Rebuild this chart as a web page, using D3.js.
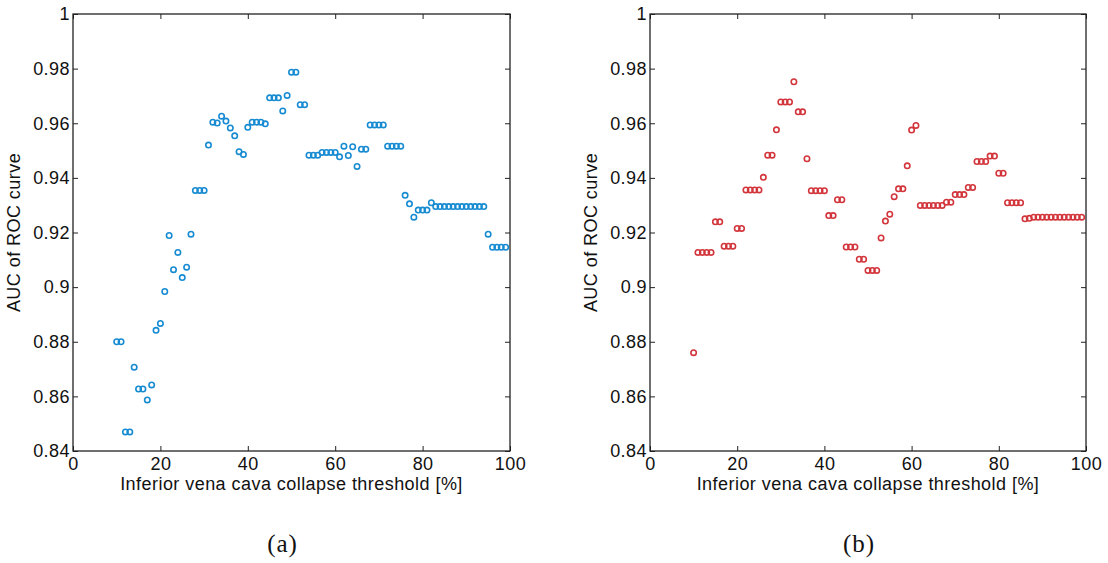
<!DOCTYPE html>
<html>
<head>
<meta charset="utf-8">
<script src="https://cdn.jsdelivr.net/npm/d3@7"></script>
<style>
  html, body { margin: 0; padding: 0; background: #fff; }
  svg { display: block; }
</style>
</head>
<body>
<svg id="chart" width="1108" height="563"></svg>
<script>
// Collapse thresholds (%) shared by both panels
const thresholds = d3.range(10, 100);

// AUC values, panel (a)
const aucA = [
  0.880, 0.880, 0.847, 0.847, 0.8707, 0.8627, 0.8627, 0.8587, 0.8642, 0.8842,
  0.8867, 0.8984, 0.9189, 0.9064, 0.9127, 0.9035, 0.9073, 0.9194, 0.9354, 0.9354,
  0.9354, 0.9520, 0.9604, 0.9601, 0.9626, 0.9608, 0.9583, 0.9554, 0.9496, 0.9486,
  0.9585, 0.9604, 0.9604, 0.9604, 0.9598, 0.9693, 0.9693, 0.9693, 0.9645, 0.9702,
  0.9787, 0.9787, 0.9668, 0.9668, 0.9483, 0.9483, 0.9483, 0.9493, 0.9493, 0.9493,
  0.9493, 0.9477, 0.9516, 0.9482, 0.9514, 0.9442, 0.9505, 0.9505, 0.9594, 0.9594,
  0.9594, 0.9594, 0.9516, 0.9516, 0.9516, 0.9516, 0.9336, 0.9305, 0.9256, 0.9282,
  0.9282, 0.9282, 0.9309, 0.9295, 0.9295, 0.9295, 0.9295, 0.9295, 0.9295, 0.9295,
  0.9295, 0.9295, 0.9295, 0.9295, 0.9295, 0.9194, 0.9146, 0.9146, 0.9146, 0.9146
];

// AUC values, panel (b)
const aucB = [
  0.8760, 0.9127, 0.9127, 0.9127, 0.9127, 0.9239, 0.9239, 0.9150, 0.9150, 0.9150,
  0.9215, 0.9215, 0.9356, 0.9356, 0.9356, 0.9356, 0.9402, 0.9483, 0.9483, 0.9576,
  0.9678, 0.9678, 0.9678, 0.9752, 0.9642, 0.9642, 0.9470, 0.9353, 0.9353, 0.9353,
  0.9353, 0.9262, 0.9262, 0.9320, 0.9320, 0.9147, 0.9147, 0.9147, 0.9102, 0.9102,
  0.9061, 0.9061, 0.9061, 0.9180, 0.9242, 0.9267, 0.9331, 0.9360, 0.9360, 0.9444,
  0.9575, 0.9592, 0.9299, 0.9299, 0.9299, 0.9299, 0.9299, 0.9299, 0.9311, 0.9311,
  0.9339, 0.9339, 0.9339, 0.9365, 0.9365, 0.9460, 0.9460, 0.9460, 0.9480, 0.9480,
  0.9417, 0.9417, 0.9309, 0.9309, 0.9309, 0.9309, 0.9250, 0.9252, 0.9256, 0.9256,
  0.9256, 0.9256, 0.9256, 0.9256, 0.9256, 0.9256, 0.9256, 0.9256, 0.9256, 0.9256
];

// Axis ticks
const xTicks = [0, 20, 40, 60, 80, 100];
const yTicks = [0.84, 0.86, 0.88, 0.9, 0.92, 0.94, 0.96, 0.98, 1];
const yTickLabels = ["0.84", "0.86", "0.88", "0.9", "0.92", "0.94", "0.96", "0.98", "1"];

const xLabel = "Inferior vena cava collapse threshold [%]";
const yLabel = "AUC of ROC curve";

const panels = [
  { values: aucA, color: "#168bd2", caption: "(a)", left: 73, right: 510 },
  { values: aucB, color: "#d2353b", caption: "(b)", left: 650, right: 1086 }
];

const plotTop = 14, plotBottom = 451;
const sans = '"Liberation Sans", Arial, Helvetica, sans-serif';
const serif = '"Liberation Serif", "Times New Roman", Times, serif';
const fontSize = 18, letterSp = 0.45;
const svg = d3.select("#chart");

panels.forEach(p => {
  const x = d3.scaleLinear().domain([0, 100]).range([p.left, p.right]);
  const y = d3.scaleLinear().domain([0.84, 1]).range([plotBottom, plotTop]);
  const g = svg.append("g");
  const tickLen = 5;

  // Bottom axis with labels, inward ticks
  const xb = g.append("g").attr("transform", `translate(0,${plotBottom})`)
    .call(d3.axisBottom(x).tickValues(xTicks).tickFormat(d3.format("d"))
      .tickSizeInner(-tickLen).tickSizeOuter(0).tickPadding(6));
  // Top axis (mirror ticks only)
  const xt = g.append("g").attr("transform", `translate(0,${plotTop})`)
    .call(d3.axisTop(x).tickValues(xTicks).tickFormat("")
      .tickSizeInner(-tickLen).tickSizeOuter(0));
  // Left axis with labels
  const yl = g.append("g").attr("transform", `translate(${p.left},0)`)
    .call(d3.axisLeft(y).tickValues(yTicks).tickFormat((d, i) => yTickLabels[i])
      .tickSizeInner(-tickLen).tickSizeOuter(0).tickPadding(3));
  // Right axis (mirror ticks only)
  const yr = g.append("g").attr("transform", `translate(${p.right},0)`)
    .call(d3.axisRight(y).tickValues(yTicks).tickFormat("")
      .tickSizeInner(-tickLen).tickSizeOuter(0));

  [xb, xt, yl, yr].forEach(a => {
    a.select(".domain").remove();
    a.selectAll(".tick line").attr("stroke", "#222").attr("stroke-width", 1);
    a.selectAll(".tick text").attr("font-size", fontSize).attr("fill", "#111")
      .attr("font-family", sans).attr("letter-spacing", letterSp);
  });

  // Plot box
  g.append("rect")
    .attr("x", p.left).attr("y", plotTop)
    .attr("width", p.right - p.left).attr("height", plotBottom - plotTop)
    .attr("fill", "none").attr("stroke", "#222").attr("stroke-width", 1.3);

  // Markers
  g.append("g").selectAll("circle")
    .data(thresholds.map((t, i) => [t, p.values[i]]))
    .join("circle")
    .attr("cx", d => x(d[0]))
    .attr("cy", d => y(d[1]))
    .attr("r", 2.7)
    .attr("fill", "none")
    .attr("stroke", p.color)
    .attr("stroke-width", 1.6);

  // Axis titles
  g.append("text")
    .attr("x", (p.left + p.right) / 2).attr("y", 490)
    .attr("text-anchor", "middle")
    .attr("font-family", sans).attr("font-size", fontSize).attr("fill", "#111")
    .attr("letter-spacing", letterSp)
    .text(xLabel);
  g.append("text")
    .attr("transform", `translate(${p.left - 53},${(plotTop + plotBottom) / 2}) rotate(-90)`)
    .attr("text-anchor", "middle")
    .attr("font-family", sans).attr("font-size", fontSize).attr("fill", "#111")
    .attr("letter-spacing", letterSp)
    .text(yLabel);

  // Panel caption
  g.append("text")
    .attr("x", (p.left + p.right) / 2 - 9).attr("y", 552)
    .attr("text-anchor", "middle")
    .attr("font-family", serif).attr("font-size", 25).attr("fill", "#111")
    .attr("letter-spacing", 1)
    .text(p.caption);
});
</script>
</body>
</html>
